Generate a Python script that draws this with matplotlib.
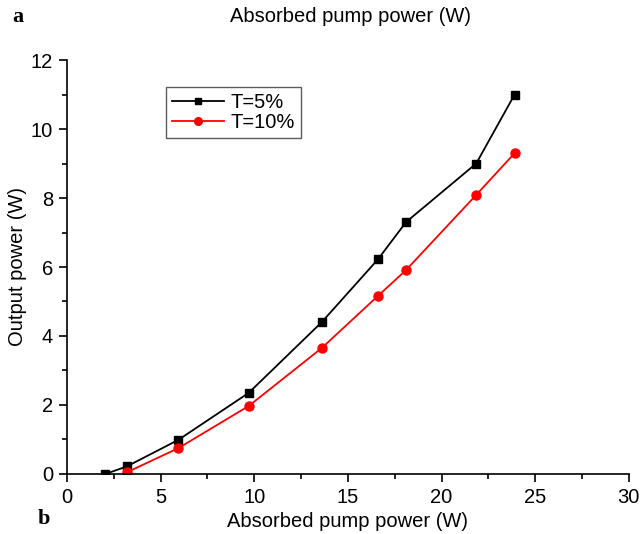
import matplotlib
matplotlib.use("Agg")
import matplotlib.pyplot as plt
from matplotlib.ticker import MultipleLocator

plt.rcParams['font.family'] = ['Liberation Sans', 'DejaVu Sans']

x_t5 = [2.05, 3.2, 5.95, 9.7, 13.6, 16.6, 18.1, 21.85, 23.9]
y_t5 = [0.0, 0.22, 0.99, 2.35, 4.4, 6.22, 7.3, 9.0, 11.0]
x_t10 = [3.2, 5.95, 9.7, 13.6, 16.6, 18.1, 21.85, 23.9]
y_t10 = [0.05, 0.75, 1.97, 3.65, 5.16, 5.91, 8.09, 9.3]
labels = ["T=5%", "T=10%"]

FS = 14.5

fig = plt.figure(figsize=(6.43, 5.34), dpi=100)
ax = fig.add_axes([0.1042, 0.1124, 0.8738, 0.7752])

ax.plot(x_t5, y_t5, color='black', lw=1.3, marker='s', ms=5.8, label=labels[0])
ax.plot(x_t10, y_t10, color='red', lw=1.3, marker='o', ms=6.5, label=labels[1])

ax.set_xlim(0, 30)
ax.set_ylim(0, 12)
ax.xaxis.set_major_locator(MultipleLocator(5))
ax.xaxis.set_minor_locator(MultipleLocator(2.5))
ax.yaxis.set_major_locator(MultipleLocator(2))
ax.yaxis.set_minor_locator(MultipleLocator(1))
ax.spines['top'].set_visible(False)
ax.spines['right'].set_visible(False)
for s in ['left', 'bottom']:
    ax.spines[s].set_linewidth(1.2)
ax.tick_params(which='major', direction='out', length=6, width=1.2, labelsize=FS, pad=4)
ax.tick_params(which='minor', direction='out', length=3.5, width=1.2)

ax.set_xlabel("Absorbed pump power (W)", fontsize=FS, labelpad=4)
ax.set_ylabel("Output power (W)", fontsize=FS, labelpad=3)

leg = ax.legend(loc='upper left', bbox_to_anchor=(0.176, 0.935), fontsize=FS,
                frameon=True, fancybox=False, edgecolor='#333333', handlelength=2.6,
                borderpad=0.3, labelspacing=0.05, handletextpad=0.3, borderaxespad=0,
                markerscale=0.85)
leg.get_frame().set_linewidth(1.0)

fig.text(350/643, 1 - 16/534, "Absorbed pump power (W)", ha='center', va='center', fontsize=FS)
fig.text(18/643, 1 - 17/534, "a", ha='center', va='center', fontsize=16,
         fontweight='bold', family='Liberation Serif')
fig.text(44/643, 1 - 519/534, "b", ha='center', va='center', fontsize=16,
         fontweight='bold', family='Liberation Serif')

fig.savefig("out.png", dpi=100)
